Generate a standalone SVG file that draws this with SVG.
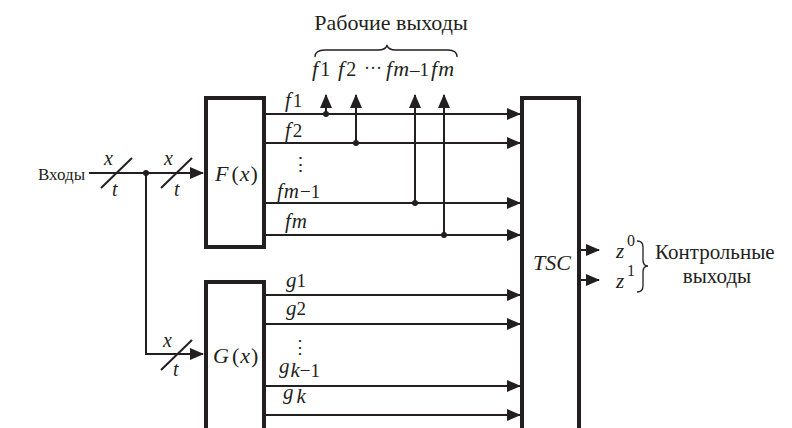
<svg xmlns="http://www.w3.org/2000/svg" width="792" height="428" viewBox="0 0 792 428">
<style>
text{font-family:'Liberation Serif','Times New Roman',serif;fill:#231f20}
.i{font-style:italic}
.box{fill:#fff;stroke:#231f20;stroke-width:4}
.ln{stroke:#231f20;stroke-width:2;fill:none}
.br{stroke:#231f20;stroke-width:1.3;fill:none}
</style>
<defs>
<marker id="ah" markerUnits="userSpaceOnUse" markerWidth="14" markerHeight="12" refX="13" refY="6" orient="auto" viewBox="0 0 14 12">
<path d="M0,0 L14,6 L0,12 z" fill="#231f20"/>
</marker>
</defs>
<g id="connectors">
<path class="ln" d="M89,173 H203" marker-end="url(#ah)"/>
<path class="ln" d="M146,173 V354 H203" marker-end="url(#ah)"/>
<circle cx="146" cy="173" r="3" fill="#231f20"/>
<path class="ln" d="M101,188 L132,158"/>
<path class="ln" d="M161,188 L192,158"/>
<path class="ln" d="M161,370 L192,340"/>
<path class="ln" d="M265,114 H520" marker-end="url(#ah)"/>
<path class="ln" d="M265,143 H520" marker-end="url(#ah)"/>
<path class="ln" d="M265,203 H520" marker-end="url(#ah)"/>
<path class="ln" d="M265,235 H520" marker-end="url(#ah)"/>
<path class="ln" d="M326,114 V95" marker-end="url(#ah)"/>
<path class="ln" d="M356,143 V95" marker-end="url(#ah)"/>
<path class="ln" d="M415,203 V95" marker-end="url(#ah)"/>
<path class="ln" d="M444,235 V95" marker-end="url(#ah)"/>
<circle cx="326" cy="114" r="3" fill="#231f20"/>
<circle cx="356" cy="143" r="3" fill="#231f20"/>
<circle cx="415" cy="203" r="3" fill="#231f20"/>
<circle cx="444" cy="235" r="3" fill="#231f20"/>
<path class="ln" d="M265,295 H520" marker-end="url(#ah)"/>
<path class="ln" d="M265,324 H520" marker-end="url(#ah)"/>
<path class="ln" d="M265,386 H520" marker-end="url(#ah)"/>
<path class="ln" d="M265,415 H520" marker-end="url(#ah)"/>
<path class="ln" d="M580,250 H599" marker-end="url(#ah)"/>
<path class="ln" d="M580,280 H599" marker-end="url(#ah)"/>
</g>
<g id="inputs">
<text x="38" y="180" font-size="17">Входы</text>
<text class="i" x="104" y="165" font-size="20">x</text>
<text class="i" x="112" y="196" font-size="20">t</text>
<text class="i" x="164" y="165" font-size="20">x</text>
<text class="i" x="174" y="196" font-size="20">t</text>
<text class="i" x="163" y="347" font-size="20">x</text>
<text class="i" x="173" y="376" font-size="20">t</text>
</g>
<g id="F">
<rect class="box" x="206" y="98" width="58" height="149"/>
<text x="215" y="181" font-size="22"><tspan class="i">F</tspan><tspan dx="3">(</tspan><tspan class="i" dx="1">x</tspan><tspan dx="1">)</tspan></text>
<text x="285" y="107" font-size="21"><tspan class="i">f</tspan><tspan font-size="19" dx="2">1</tspan></text>
<text x="285" y="137" font-size="21"><tspan class="i">f</tspan><tspan font-size="19" dx="2">2</tspan></text>
<text x="291" y="171" font-size="19">⋮</text>
<text x="277" y="198" font-size="21"><tspan class="i">f</tspan><tspan class="i" dx="1">m</tspan><tspan font-size="19" dx="1">−1</tspan></text>
<text x="285" y="228" font-size="21"><tspan class="i">f</tspan><tspan class="i" dx="1">m</tspan></text>
</g>
<g id="G">
<rect class="box" x="206" y="282" width="58" height="160"/>
<text x="213" y="363" font-size="22"><tspan class="i">G</tspan><tspan dx="3">(</tspan><tspan class="i" dx="1">x</tspan><tspan dx="1">)</tspan></text>
<text x="286" y="287" font-size="21"><tspan class="i">g</tspan><tspan font-size="19">1</tspan></text>
<text x="286" y="315" font-size="21"><tspan class="i">g</tspan><tspan font-size="19">2</tspan></text>
<text x="291" y="353" font-size="18">⋮</text>
<text x="279" y="373" font-size="21"><tspan class="i">g</tspan><tspan class="i" dx="1" dy="4">k</tspan><tspan font-size="19">−1</tspan></text>
<text x="283" y="399" font-size="21"><tspan class="i">g</tspan><tspan class="i" dx="3" dy="4">k</tspan></text>
</g>
<g id="TSC">
<rect class="box" x="522" y="98" width="57" height="350"/>
<text class="i" x="552" y="270" font-size="22" text-anchor="middle">TSC</text>
</g>
<g id="work-outputs">
<text x="391" y="30" font-size="22" text-anchor="middle">Рабочие выходы</text>
<path class="br" d="M315,57 Q315,50 325,50 H378 Q386,50 387,45 Q388,50 396,50 H448 Q457,50 457,57"/>
<text x="312" y="76" font-size="22"><tspan class="i">f</tspan><tspan font-size="20" dx="2">1</tspan></text>
<text x="338" y="76" font-size="22"><tspan class="i">f</tspan><tspan font-size="20" dx="2">2</tspan></text>
<text x="364" y="74" font-size="18">···</text>
<text x="386" y="76" font-size="22"><tspan class="i">f</tspan><tspan class="i" dx="1">m</tspan><tspan font-size="19" dx="1">–1</tspan><tspan class="i" dx="2">f</tspan><tspan class="i" dx="1">m</tspan></text>
</g>
<g id="control-outputs">
<text class="i" x="616" y="258" font-size="21">z</text>
<text x="627" y="246" font-size="16">0</text>
<text class="i" x="616" y="288" font-size="21">z</text>
<text x="627" y="276" font-size="16">1</text>
<path class="br" d="M637,241 Q643,241 643,247 V260 Q643,266 648,266 Q643,266 643,272 V286 Q643,292 637,292"/>
<text x="655" y="259" font-size="21">Контрольные</text>
<text x="717" y="283" font-size="21" text-anchor="middle">выходы</text>
</g>
</svg>
